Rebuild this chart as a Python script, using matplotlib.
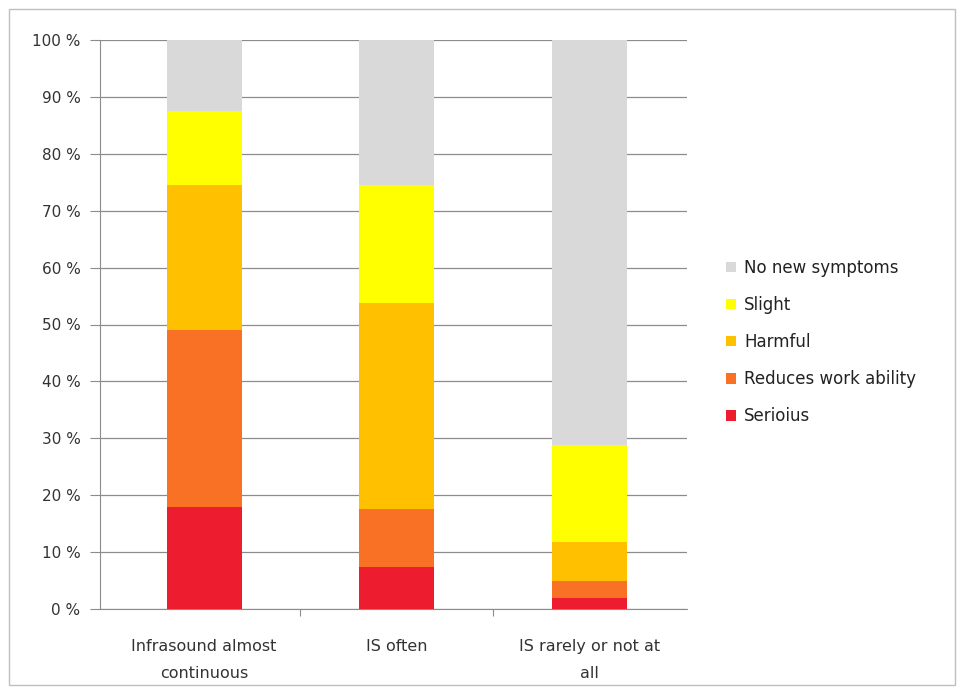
import numpy as np
import matplotlib
matplotlib.use("Agg")
import matplotlib.pyplot as plt
from matplotlib.patches import Rectangle, Patch

categories = ["Infrasound almost\ncontinuous", "IS often", "IS rarely or not at\nall"]
series_names = ["Serioius", "Reduces work ability", "Harmful", "Slight", "No new symptoms"]
serious = [18.0, 7.3, 1.9]
reduces = [31.0, 10.3, 3.1]
harmful = [25.5, 36.1, 6.8]
slight = [13.0, 20.8, 17.1]
no_new = [12.5, 25.5, 71.1]
colors = ["#ee1c2f", "#f97125", "#ffc000", "#ffff00", "#d9d9d9"]

plt.rcParams['font.family'] = ['DejaVu Sans']

fig = plt.figure(figsize=(9.63, 6.93), dpi=100)
ax = fig.add_axes([100 / 963, 1 - 609 / 693, 587 / 963, 569 / 693])

x = np.arange(len(categories))
bottom = np.zeros(len(categories))
for vals, name, col in zip([serious, reduces, harmful, slight, no_new], series_names, colors):
    ax.bar(x, vals, width=0.39, bottom=bottom, color=col, label=name, zorder=3)
    bottom += np.array(vals)

ax.set_xlim(-0.54, 2.505)
ax.set_ylim(0, 100)
ax.set_yticks(np.arange(0, 101, 10))
ax.set_yticklabels([f"{v} %" for v in range(0, 101, 10)], fontsize=11, color="#333333")
ax.yaxis.grid(True, color="#8c8c8c", linewidth=0.9, zorder=0)

# category labels under the bars, tick marks between categories
ax.set_xticks([0.5, 1.5])
ax.set_xticklabels([])
ax.tick_params(axis="x", length=5, color="#8c8c8c", direction="out")
ax.tick_params(axis="y", length=7, color="#8c8c8c", pad=7)
for xi, lab in zip(x, categories):
    ax.text(xi, -5.3, lab, ha="center", va="top", fontsize=11.5, color="#333333",
            linespacing=1.95, transform=ax.transData)

for s in ["top", "right"]:
    ax.spines[s].set_visible(False)
for s in ["left", "bottom"]:
    ax.spines[s].set_color("#8c8c8c")

handles = [Patch(facecolor=c, label=n) for n, c in zip(series_names, colors)]
fig.legend(handles=handles[::-1], loc="center left", bbox_to_anchor=(711 / 963, 1 - 342 / 693),
           frameon=False, fontsize=12, handlelength=0.6, handleheight=0.6,
           handletextpad=0.5, labelspacing=1.15, labelcolor="#222222")

fig.patches.append(Rectangle((9 / 963, 8 / 693), 946 / 963, 676 / 693, transform=fig.transFigure,
                             fill=False, edgecolor="#bfbfbf", linewidth=1))

fig.savefig("out.png", dpi=100)
